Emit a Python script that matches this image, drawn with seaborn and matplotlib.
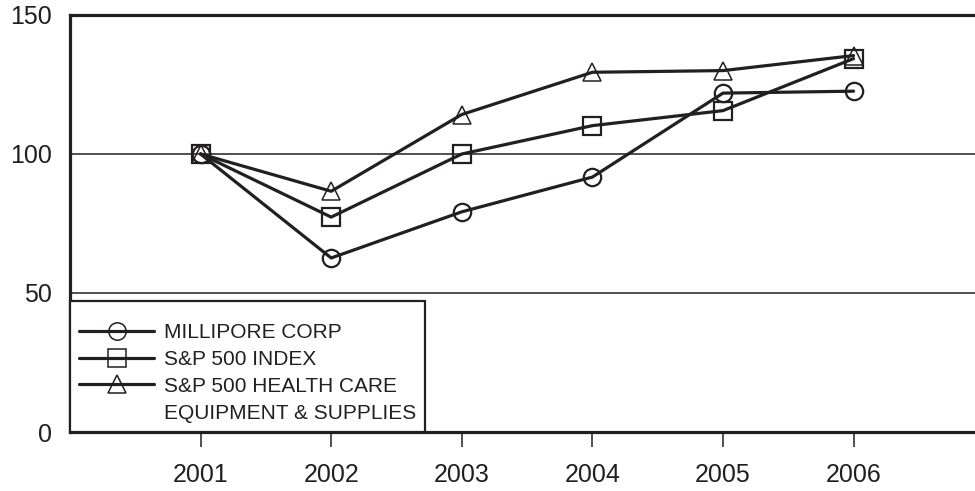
import matplotlib
matplotlib.use("Agg")
import matplotlib.pyplot as plt
from matplotlib.lines import Line2D
import seaborn as sns
import pandas as pd

years = [2001, 2002, 2003, 2004, 2005, 2006]
millipore = [100, 62.6, 79.2, 91.7, 121.9, 122.6]
sp500 = [100, 77.3, 100.0, 110.2, 115.6, 134.3]
sp500_hc = [100, 86.6, 114.2, 129.4, 130.0, 135.4]

series_names = ["MILLIPORE CORP", "S&P 500 INDEX", "S&P 500 HEALTH CARE"]
series_values = [millipore, sp500, sp500_hc]
series_markers = ["o", "s", "^"]
y_ticks = [0, 50, 100, 150]

INK = "#231f20"

sns.set_theme(style="white")
plt.rcParams["font.family"] = ["Liberation Sans", "DejaVu Sans"]

fig = plt.figure(figsize=(9.75, 4.91), dpi=100)
ax = fig.add_axes([70 / 975, 59 / 491, 905 / 975, 417 / 491])

handles = []
for name, vals, mk in zip(series_names, series_values, series_markers):
    df = pd.DataFrame({"year": years, "value": vals})
    size = 13.5 if mk == "^" else 12.5
    sns.lineplot(data=df, x="year", y="value", ax=ax, color=INK, linewidth=2.3,
                 marker=mk, markersize=size,
                 markerfacecolor="none", markeredgecolor=INK,
                 markeredgewidth=1.1 if mk == "^" else 1.6, legend=False)
    handles.append(Line2D([], [], color=INK, linewidth=2.3, marker=mk,
                          markersize=size, markerfacecolor="none",
                          markeredgecolor=INK, markeredgewidth=1.1))

# continuation line of the third legend label
handles.append(Line2D([], [], color="none"))
labels = series_names + ["EQUIPMENT & SUPPLIES"]

ax.set_xlim(2000, 2006.93)
ax.set_ylim(0, 150)
ax.set_xticks(years)
ax.set_xticklabels([str(y) for y in years])
ax.set_yticks(y_ticks)
ax.set_xlabel("")
ax.set_ylabel("")

for y in (50, 100):
    ax.axhline(y, color=INK, linewidth=1.1, zorder=0.5)

for side in ("left", "bottom", "top"):
    ax.spines[side].set_visible(True)
    ax.spines[side].set_color(INK)
    ax.spines[side].set_linewidth(2.3)
ax.spines["right"].set_visible(False)

ax.tick_params(axis="x", direction="out", length=11, width=1.1, color=INK,
               labelsize=18, labelcolor=INK, pad=11, bottom=True)
ax.tick_params(axis="y", length=0, labelsize=18, labelcolor=INK, pad=13)

leg = ax.legend(handles, labels, loc="lower left", bbox_to_anchor=(0, 0),
                borderaxespad=0, fontsize=15, frameon=True, fancybox=False,
                handlelength=3.6, handletextpad=0.45, labelspacing=0.38,
                borderpad=0.45, edgecolor=INK,
                title=" ", title_fontsize=4)
leg.get_frame().set_linewidth(1.6)
leg.get_frame().set_facecolor("white")
leg.get_frame().set_alpha(1)
for t in leg.get_texts():
    t.set_color(INK)

fig.savefig("out.png", dpi=100)
